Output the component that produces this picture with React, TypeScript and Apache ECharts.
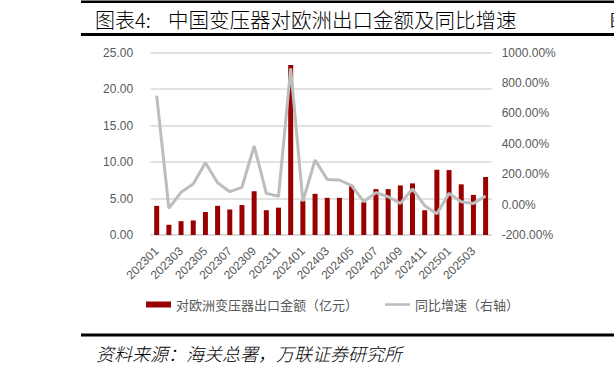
import React, { useEffect, useRef } from "react";
import * as echarts from "echarts";

const categories = [
  "202301", "202302", "202303", "202304", "202305", "202306", "202307", "202308",
  "202309", "202310", "202311", "202312", "202401", "202402", "202403", "202404",
  "202405", "202406", "202407", "202408", "202409", "202410", "202411", "202412",
  "202501", "202502", "202503", "202504",
];

const exportValues = [
  4.0, 1.4, 1.9, 2.0, 3.15, 4.0, 3.5, 4.1, 6.0, 3.4, 3.75, 23.3, 4.7, 5.65, 5.1, 5.1,
  6.76, 4.5, 6.3, 6.3, 6.8, 7.08, 3.4, 8.95, 8.9, 6.95, 5.5, 7.95,
];

const yoyGrowth = [
  717, -24, 81, 136, 276, 144, 85, 114, 386, 74, 55, 897, 22, 294, 166, 162,
  125, 20, 79, 52, 8, 103, -7, -60, 74, 19, 8, 57,
];

const barName = "对欧洲变压器出口金额（亿元）";
const lineName = "同比增速（右轴）";
const titleHead = "图表4:";
const titleBody = "中国变压器对欧洲出口金额及同比增速";
const sourceText = "资料来源：海关总署，万联证券研究所";

const labelColor = "#595959";
const cjk = '"Noto Sans CJK SC", "Noto Sans", sans-serif';

export default function App() {
  const ref = useRef<HTMLDivElement>(null);

  useEffect(() => {
    if (!ref.current) return;
    const chart = echarts.init(ref.current, null, { renderer: "svg" });
    chart.setOption({
      animation: false,
      backgroundColor: "#ffffff",
      grid: { left: 150.6, right: 122.3, top: 52.7, bottom: 136, containLabel: false },
      legend: {
        left: 141,
        top: 293,
        itemWidth: 25,
        itemHeight: 6,
        itemGap: 27,
        textStyle: { color: labelColor, fontSize: 13, fontFamily: cjk },
        data: [
          { name: barName, icon: "rect" },
          { name: lineName, icon: "path://M0,0h25v2.5h-25z" },
        ],
      },
      xAxis: {
        type: "category",
        data: categories,
        boundaryGap: true,
        axisLine: { show: true, lineStyle: { color: "#D9D9D9", width: 1.5 } },
        axisTick: { show: false },
        axisLabel: {
          interval: 1,
          rotate: 45,
          color: labelColor,
          fontSize: 12,
          margin: 14,
          fontFamily: "Liberation Sans, Arial, sans-serif",
        },
      },
      yAxis: [
        {
          type: "value",
          min: 0,
          max: 25,
          interval: 5,
          axisLine: { show: false },
          axisTick: { show: false },
          splitLine: { show: true, lineStyle: { color: "#D9D9D9", width: 1.5 } },
          axisLabel: {
            color: labelColor,
            fontSize: 12,
            margin: 17.5,
            fontFamily: "Liberation Sans, Arial, sans-serif",
            formatter: (v: number) => v.toFixed(2),
          },
        },
        {
          type: "value",
          min: -200,
          max: 1000,
          interval: 200,
          axisLine: { show: false },
          axisTick: { show: false },
          splitLine: { show: false },
          axisLabel: {
            color: labelColor,
            fontSize: 12,
            margin: 10,
            fontFamily: "Liberation Sans, Arial, sans-serif",
            formatter: (v: number) => v.toFixed(2) + "%",
          },
        },
      ],
      series: [
        {
          name: barName,
          type: "bar",
          yAxisIndex: 0,
          data: exportValues,
          barWidth: 5,
          itemStyle: { color: "#990000" },
        },
        {
          name: lineName,
          type: "line",
          yAxisIndex: 1,
          data: yoyGrowth,
          symbol: "none",
          showSymbol: false,
          lineStyle: { color: "#BDBDBD", width: 3 },
          itemStyle: { color: "#BDBDBD" },
        },
      ],
      graphic: [
        { type: "rect", shape: { x: 81, y: 0.5, width: 533, height: 2.5 }, style: { fill: "#000" } },
        { type: "rect", shape: { x: 81, y: 33, width: 533, height: 3 }, style: { fill: "#000" } },
        { type: "rect", shape: { x: 81, y: 333.5, width: 533, height: 3 }, style: { fill: "#000" } },
        {
          type: "text",
          x: 95,
          y: 19,
          style: {
            text: titleHead,
            fontSize: 20,
            fontWeight: 300,
            fontFamily: cjk,
            fill: "#000",
            verticalAlign: "middle",
          },
        },
        {
          type: "text",
          x: 168,
          y: 19,
          style: {
            text: titleBody,
            fontSize: 20.5,
            fontWeight: 300,
            fontFamily: cjk,
            fill: "#000",
            verticalAlign: "middle",
          },
        },
        {
          type: "text",
          x: 610,
          y: 19,
          style: { text: "图", fontSize: 16, fontFamily: cjk, fill: "#000", verticalAlign: "middle" },
        },
        {
          type: "text",
          x: 96,
          y: 353,
          style: {
            text: sourceText,
            fontSize: 18,
            fontStyle: "italic",
            fontWeight: 300,
            fontFamily: cjk,
            fill: "#000",
            verticalAlign: "middle",
          },
        },
      ],
    });
    return () => chart.dispose();
  }, []);

  return (
    <div
      ref={ref}
      style={{ position: "fixed", left: 0, top: 0, width: 614, height: 371, background: "#fff" }}
    />
  );
}
